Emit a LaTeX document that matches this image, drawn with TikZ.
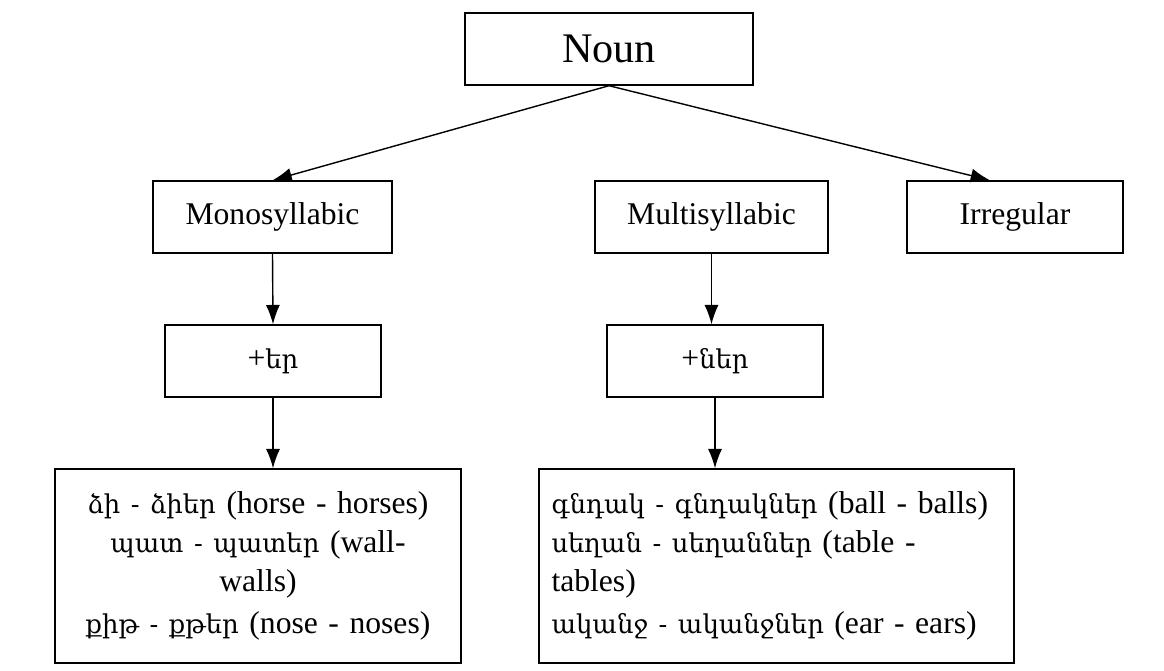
\documentclass[tikz,border=0pt]{standalone}
\usepackage{fontspec}
\setmainfont{Liberation Serif}
\newfontfamily\armfont[Scale=0.82]{DejaVu Serif}
\usetikzlibrary{arrows.meta}
\newcommand{\hy}[1]{{\armfont #1}}

\begin{document}
\begin{tikzpicture}[x=0.02cm,y=-0.02cm,
    box/.style={draw,thick,font=\fontsize{18}{22}\selectfont},
    arr/.style={-{Latex[length=11pt,width=8pt]},thick}]
  \useasboundingbox (0,0) rectangle (1164,670);
  \node[box,minimum width=288*0.02cm,minimum height=72*0.02cm,font=\fontsize{24}{28}\selectfont] (noun) at (609,49) {Noun};
  \node[box,minimum width=239*0.02cm,minimum height=72*0.02cm] (mono) at (272.5,217) {Monosyllabic};
  \node[box,minimum width=233*0.02cm,minimum height=72*0.02cm] (multi) at (711.5,217) {Multisyllabic};
  \node[box,minimum width=216*0.02cm,minimum height=72*0.02cm] (irr) at (1015,217) {Irregular};
  \node[box,minimum width=216*0.02cm,minimum height=72*0.02cm] (er) at (273,361) {+\hy{եր}};
  \node[box,minimum width=216*0.02cm,minimum height=72*0.02cm] (ner) at (715,361) {+\hy{ներ}};
  \node[box,minimum width=406*0.02cm,minimum height=194*0.02cm,align=center,text width=380*0.02cm] (exl) at (258,566)
    {\hy{ձի - ձիեր} (horse - horses)\\ \hy{պատ - պատեր} (wall-\\ walls)\\[2pt] \hy{քիթ - քթեր} (nose - noses)};
  \node[box,minimum width=475*0.02cm,minimum height=194*0.02cm,align=left,text width=450*0.02cm] (exr) at (776.5,566)
    {\hy{գնդակ - գնդակներ} (ball - balls)\\ \hy{սեղան - սեղաններ} (table -\\ tables)\\[2pt] \hy{ականջ - ականջներ} (ear - ears)};
  \draw[arr] (noun.south) -- (mono.north);
  \draw[arr] (noun.south) -- ([xshift=-25*0.02cm]irr.north);
  \draw[arr] (mono.south) -- (er.north);
  \draw[arr] (er.south) -- (er.south |- exl.north);
  \draw[arr] (multi.south) -- (multi.south |- ner.north);
  \draw[arr] (ner.south) -- (ner.south |- exr.north);
\end{tikzpicture}
\end{document}
